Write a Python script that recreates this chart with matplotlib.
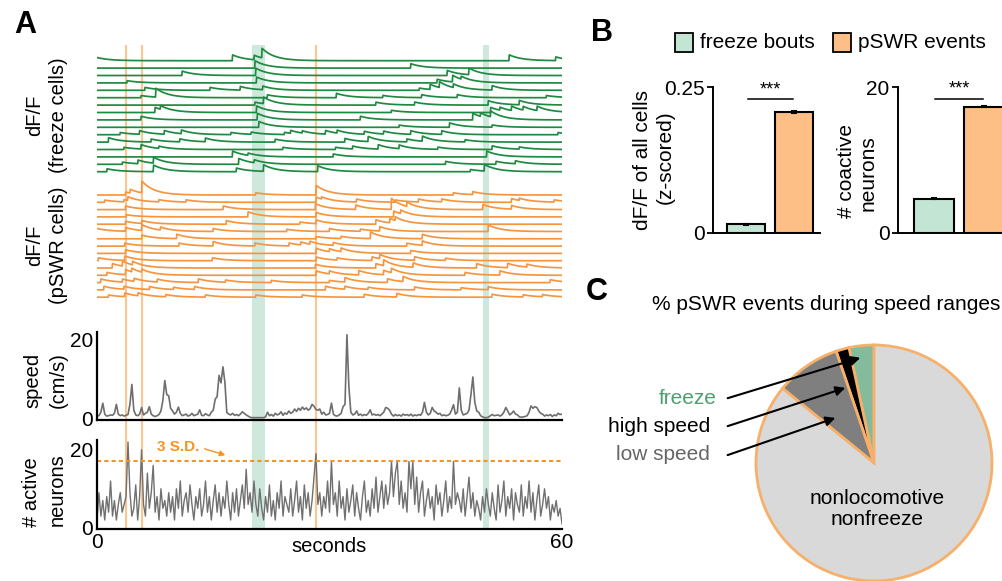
import numpy as np
import matplotlib
matplotlib.use('Agg')
import matplotlib.pyplot as plt
from matplotlib.patches import Rectangle

plt.rcParams['font.family'] = ['Liberation Sans', 'DejaVu Sans']

# ---------------- data ----------------
# calcium events per cell: (time in s, amplitude)
green_events = [
    [(-0.5, 0.6), (17.5, 0.8), (20.3, 0.6), (21.3, 1.3), (53.2, 0.8), (59.2, 0.5)],
    [(20.4, 1.0), (40.5, 0.6)],
    [(11.0, 0.6), (20.5, 1.0), (45.2, 0.7), (48.0, 0.9)],
    [(3.9, 0.3), (20.6, 0.8), (43.9, 0.5), (45.9, 0.9), (47.0, 0.4)],
    [(6.2, 0.4), (14.6, 0.4), (18.5, 0.5), (21.4, 0.5), (41.6, 0.3), (43.0, 0.7), (44.2, 0.8), (46.0, 0.5), (51.0, 0.6)],
    [(5.7, 0.3), (7.6, 1.2), (22.0, 0.4), (30.9, 0.6), (36.9, 0.3), (41.9, 0.4), (46.5, 0.4), (58.0, 0.3)],
    [(20.4, 0.4), (21.5, 0.9), (36.0, 0.4), (41.0, 0.4), (50.5, 0.6), (54.5, 0.6)],
    [(7.5, 0.7), (8.2, 0.5), (20.6, 0.9), (38.0, 0.3), (50.8, 0.7), (52.0, 0.4), (53.5, 0.6), (55.0, 0.5), (56.8, 0.6)],
    [(5.7, 0.5), (20.7, 0.9), (34.0, 0.5), (48.5, 0.9), (49.5, 0.5), (50.8, 0.8)],
    [(20.9, 0.8), (39.0, 0.3), (45.5, 0.6), (51.0, 0.3)],
    [(3.0, 0.3), (5.5, 0.5), (8.7, 0.5), (10.9, 0.5), (17.3, 0.3), (19.9, 0.3), (24.2, 0.3), (25.0, 0.4), (26.5, 0.3),
     (29.5, 0.5), (31.0, 0.4), (34.5, 0.4), (37.0, 0.4), (40.5, 0.5), (44.5, 0.5), (59.5, 0.3)],
    [(1.5, 0.6), (7.0, 0.4), (10.7, 0.4), (14.0, 0.5), (23.0, 0.4), (32.0, 0.5), (35.0, 0.7), (40.0, 0.4), (42.0, 0.7), (47.5, 0.3)],
    [(3.5, 0.3), (5.7, 0.6), (8.0, 0.3), (24.0, 0.3), (30.8, 0.3), (33.0, 0.4), (36.3, 0.6), (39.0, 0.5), (44.0, 0.3), (51.0, 0.5), (54.5, 0.3)],
    [(17.5, 0.8), (19.5, 0.3), (30.5, 0.4), (50.3, 0.8)],
    [(3.3, 0.3), (5.3, 0.5), (7.3, 0.8), (18.3, 0.8), (20.3, 0.4), (45.0, 0.4), (51.5, 0.4), (54.0, 0.4)],
    [(1.3, 0.4), (7.3, 0.9), (18.0, 0.5), (21.5, 0.9), (28.5, 0.8), (48.2, 0.3), (50.0, 0.9)],
]
orange_events = [
    [(3.7, 0.4), (4.3, 0.5), (5.8, 1.6), (20.5, 0.3), (28.3, 1.3), (46.0, 0.3), (48.5, 0.4)],
    [(1.0, 0.3), (3.5, 0.3), (4.0, 0.5), (8.0, 0.3), (11.5, 0.3), (28.3, 0.7), (29.0, 0.3), (33.5, 0.4), (38.5, 0.3),
     (41.5, 0.4), (44.5, 0.4), (53.5, 0.5), (54.5, 0.3), (59.0, 0.3)],
    [(3.7, 0.5), (16.3, 0.5), (28.2, 0.8), (33.4, 0.6), (38.0, 1.5), (40.0, 0.6), (49.8, 0.7), (53.5, 0.5)],
    [(3.8, 0.3), (19.5, 0.7), (28.3, 0.6), (38.3, 0.8), (39.2, 0.5)],
    [(3.7, 0.4), (5.8, 0.4), (16.7, 0.5), (26.2, 0.3), (28.3, 0.5), (36.0, 0.6), (37.8, 0.6), (38.5, 0.5)],
    [(-0.3, 0.5), (3.7, 0.5), (5.8, 0.8), (8.2, 0.4), (15.0, 0.4), (24.5, 0.3), (30.0, 0.4), (34.0, 0.3), (36.5, 0.6), (50.5, 0.9)],
    [(5.8, 0.5), (10.3, 0.6), (28.3, 0.3), (31.5, 0.3), (35.3, 0.9), (42.0, 0.6)],
    [(3.6, 0.4), (10.6, 0.4), (15.0, 0.6), (20.4, 0.4), (24.8, 0.4), (26.3, 0.4), (27.5, 0.4), (30.5, 0.4), (40.0, 0.4), (42.0, 0.6)],
    [(3.7, 0.5), (28.3, 0.7), (30.0, 0.4), (31.5, 0.5), (40.5, 0.4)],
    [(0.2, 0.4), (3.6, 0.6), (14.9, 0.4), (28.3, 0.5), (31.0, 0.3), (35.5, 0.5), (36.5, 0.6), (41.0, 0.5), (45.0, 0.3)],
    [(2.0, 0.6), (3.3, 0.7), (4.6, 0.5), (28.2, 0.5), (36.0, 0.6), (37.0, 0.8), (40.8, 0.6), (49.0, 0.6), (53.0, 0.6), (55.5, 0.4)],
    [(1.3, 0.4), (3.7, 0.7), (4.5, 0.5), (5.8, 0.4), (28.3, 0.6), (30.0, 0.4), (33.8, 0.6), (37.0, 0.6), (38.0, 0.6), (47.5, 0.4), (52.0, 0.6)],
    [(0.5, 0.5), (3.3, 0.4), (4.8, 0.4), (7.8, 0.4), (13.1, 0.5), (16.6, 0.3), (22.5, 0.3), (30.0, 0.3), (32.0, 0.6),
     (37.5, 0.5), (39.5, 0.7), (58.5, 0.4)],
    [(0.9, 0.5), (3.5, 0.4), (6.8, 0.4), (9.9, 0.3), (12.6, 0.4), (29.5, 0.5), (32.0, 0.4), (35.0, 0.3), (41.0, 0.4), (47.0, 0.3), (50.5, 0.4)],
    [(1.5, 0.3), (3.6, 0.5), (5.3, 0.4), (8.9, 0.3), (14.0, 0.3), (20.5, 0.3), (26.5, 0.3), (34.5, 0.4), (38.7, 0.5),
     (51.0, 0.4), (55.0, 0.3), (57.5, 0.3)],
]
freeze_bouts = [(20.0, 21.7), (49.75, 50.6)]
pswr_times = [3.7, 5.8, 28.3]

# speed (cm/s), one value every 0.25 s
speed = [
    0.5, 0.6, 1.5, 3.8, 1.0, 0.5, 0.6, 0.8, 0.7, 1.2, 3.5, 1.0, 0.6, 0.8, 0.5, 0.7, 0.9, 3.5, 8.6, 2.0,
    0.8, 0.6, 1.0, 2.7, 0.8, 1.2, 1.5, 2.9, 1.0, 0.6, 0.4, 0.6, 0.9, 1.8, 4.5, 9.6, 6.0, 5.7, 2.5, 1.8,
    1.0, 1.5, 2.8, 1.2, 0.6, 0.8, 1.0, 0.5, 0.7, 1.2, 0.6, 0.8, 1.0, 2.1, 0.7, 0.6, 1.1, 0.8, 0.6, 1.5,
    2.0, 4.8, 5.5, 10.9, 9.0, 13.1, 9.2, 1.4, 1.0, 0.8, 1.2, 0.7, 0.9, 0.6, 1.0, 1.6, 1.2, 0.8, 0.5, 0.2,
    0.1, 0.1, 0.1, 0.1, 0.1, 0.1, 0.1, 0.3, 1.5, 0.6, 0.9, 0.5, 1.2, 0.8, 1.0, 1.6, 0.7, 1.3, 1.0, 1.8,
    1.2, 1.5, 2.3, 1.7, 2.5, 2.0, 2.8, 2.2, 2.6, 2.0, 2.4, 3.5, 3.0, 2.2, 2.0, 2.3, 1.0, 1.5, 0.8, 0.9,
    1.2, 3.8, 1.0, 0.6, 0.5, 0.8, 1.2, 2.9, 3.5, 21.3, 8.0, 1.5, 0.8, 1.0, 1.8, 0.7, 1.0, 0.6, 0.9, 0.7,
    1.2, 2.1, 0.8, 1.0, 0.7, 0.9, 0.6, 1.0, 1.5, 2.7, 2.5, 2.0, 1.0, 0.5, 0.9, 0.6, 0.8, 0.5, 1.0, 0.7,
    0.9, 0.6, 1.0, 0.5, 0.8, 0.6, 0.9, 0.7, 1.5, 4.0, 1.5, 0.8, 1.2, 2.7, 1.8, 1.5, 1.0, 1.2, 0.6, 0.8,
    0.6, 0.7, 1.0, 2.0, 3.4, 1.0, 1.5, 7.7, 2.0, 0.8, 1.0, 1.2, 2.0, 6.0, 10.5, 4.0, 1.8, 1.5, 0.6, 0.3,
    0.1, 0.1, 0.2, 0.6, 0.9, 0.6, 0.7, 0.8, 0.5, 0.8, 1.5, 2.7, 1.8, 0.8, 1.2, 1.8, 1.0, 0.8, 0.3, 0.2,
    0.3, 0.4, 0.6, 1.5, 3.1, 2.5, 2.9, 2.7, 1.8, 1.2, 1.0, 0.5, 0.8, 0.6, 0.9, 0.4, 0.8, 0.6, 1.2, 0.9, 1.0,
]

# number of active neurons, one value every 0.25 s
active = [
    2, 9, 3, 7, 2, 8, 4, 12, 3, 7, 2, 6, 9, 4, 6, 8, 22, 9, 3, 5,
    11, 2, 8, 20, 6, 3, 14, 5, 9, 16, 4, 8, 2, 10, 5, 7, 3, 9, 4, 8,
    2, 10, 5, 12, 3, 7, 9, 4, 11, 6, 2, 8, 5, 10, 3, 6, 12, 4, 8, 2,
    7, 11, 4, 9, 3, 8, 5, 12, 6, 2, 9, 4, 10, 3, 7, 11, 5, 15, 6, 9,
    4, 12, 6, 3, 10, 5, 2, 8, 4, 11, 3, 7, 2, 9, 5, 12, 3, 8, 6, 4,
    10, 3, 7, 12, 4, 8, 2, 11, 5, 9, 3, 7, 13, 19, 6, 9, 3, 8, 5, 12,
    4, 17, 6, 9, 3, 12, 5, 8, 2, 10, 4, 7, 11, 3, 9, 5, 2, 8, 12, 4,
    7, 3, 10, 5, 13, 4, 8, 12, 5, 11, 6, 9, 17, 8, 14, 17, 6, 12, 5, 9,
    4, 17, 10, 17, 6, 13, 4, 9, 12, 3, 7, 10, 5, 8, 2, 11, 6, 9, 3, 7,
    12, 4, 8, 5, 17, 6, 9, 7, 4, 10, 3, 8, 13, 5, 9, 3, 7, 5, 2, 8,
    4, 10, 6, 3, 9, 5, 2, 11, 4, 7, 12, 3, 8, 5, 10, 2, 9, 6, 4, 11,
    3, 8, 5, 12, 4, 9, 2, 7, 11, 3, 6, 10, 5, 8, 2, 6, 4, 7, 3, 5, 1,
]
threshold_3sd = 17.2

# panel B
groups = ['freeze bouts', 'pSWR events']
dff_mean = [0.015, 0.207]
dff_err = [0.001, 0.002]
coactive_mean = [4.7, 17.3]
coactive_err = [0.05, 0.1]

# panel C
pie_labels = ['freeze', 'high speed', 'low speed', 'nonlocomotive\nnonfreeze']
pie_pct = [3.4, 1.8, 8.9, 85.9]

# ---------------- style ----------------
c_green = '#1e8a41'
c_orange = '#f7953f'
c_band = '#cfe8dc'
c_line = '#fcc690'
c_bar_freeze = '#c3e6d4'
c_bar_pswr = '#fdbf86'
tau = 1.6

W, H = 1002, 581
fig = plt.figure(figsize=(W / 100, H / 100), dpi=100)


def px_axes(l, t, r, b):
    return fig.add_axes([l / W, 1 - b / H, (r - l) / W, (b - t) / H])


# background: freeze bouts and pSWR times across panel A
bg = px_axes(97, 45, 562, 529)
bg.set_xlim(0, 60)
bg.set_ylim(0, 1)
bg.axis('off')
for a, b in freeze_bouts:
    bg.axvspan(a, b, color=c_band, lw=0)
for x in pswr_times:
    bg.axvline(x, color=c_line, lw=1.5)

# calcium traces
tr = px_axes(97, 45, 562, 305)
tr.set_xlim(0, 60)
tr.set_ylim(305, 45)
tr.axis('off')
t = np.arange(0, 60.001, 0.05)


def ca_trace(events):
    y = np.zeros_like(t)
    for t0, a in events:
        m = t >= t0
        y[m] += a * np.exp(-(t[m] - t0) / tau)
    return y


for i, ev in enumerate(green_events):
    tr.plot(t, 60.7 + i * 7.4 - 7.3 * ca_trace(ev), color=c_green, lw=1.25)
for i, ev in enumerate(orange_events):
    tr.plot(t, 195 + i * 7.3 - 7.3 * ca_trace(ev), color=c_orange, lw=1.25)

# speed
sp = px_axes(97, 332, 562, 420)
sp.patch.set_alpha(0)
sp.plot(np.linspace(0, 60, len(speed)), speed, color='#6e6e6e', lw=1.2)
sp.set_xlim(0, 60)
sp.set_ylim(-0.5, 22)
sp.set_xticks([])
sp.set_yticks([0, 20])
sp.tick_params(length=0, pad=3, labelsize=15)
for s in ['top', 'right']:
    sp.spines[s].set_visible(False)
for s in ['left', 'bottom']:
    sp.spines[s].set_linewidth(1.6)

# active neurons
ac = px_axes(97, 440, 562, 529)
ac.patch.set_alpha(0)
ac.plot(np.linspace(0, 60, len(active)), active, color='#707070', lw=1.0)
ac.axhline(threshold_3sd, color='#f7941d', ls=(0, (2, 1.5)), lw=1.5)
ac.set_xlim(0, 60)
ac.set_ylim(-0.3, 22.5)
ac.set_xticks([0, 60])
ac.set_yticks([0, 20])
ac.tick_params(length=0, pad=3, labelsize=15)
for s in ['top', 'right']:
    ac.spines[s].set_visible(False)
for s in ['left', 'bottom']:
    ac.spines[s].set_linewidth(1.6)


# panel B bars
def bar_panel(ax, means, errs, ymax, ticklabels, xlim, sig_y, star_y):
    ax.bar([0, 1], means, width=0.8, color=[c_bar_freeze, c_bar_pswr], edgecolor='black', lw=1.5,
           yerr=errs, capsize=2, error_kw=dict(lw=1.5, capthick=1.5))
    ax.set_xlim(*xlim)
    ax.set_ylim(0, ymax)
    ax.set_xticks([])
    ax.set_yticks([0, ymax])
    ax.set_yticklabels(ticklabels)
    ax.tick_params(length=4, width=1.3, pad=2, labelsize=15)
    for s in ['top', 'right']:
        ax.spines[s].set_visible(False)
    for s in ['left', 'bottom']:
        ax.spines[s].set_linewidth(1.4)
    ax.plot([0.03, 0.97], [sig_y, sig_y], color='black', lw=1.1, clip_on=False)
    ax.text(0.5, star_y, '***', ha='center', va='bottom', fontsize=13, clip_on=False)


b1 = px_axes(713, 87, 820, 233)
bar_panel(b1, dff_mean, dff_err, 0.25, ['0', '0.25'], (-0.69, 1.54), 0.229, 0.231)
b2 = px_axes(898, 87, 1002, 233)
bar_panel(b2, coactive_mean, coactive_err, 20, ['0', '20'], (-0.71, 1.35), 18.4, 18.6)

# panel C pie
pc = px_axes(756, 345, 992, 581)
wedges, _ = pc.pie(pie_pct, colors=['#84bb9c', '#000000', '#7f7f7f', '#d9d9d9'], startangle=90,
                   counterclock=True, wedgeprops=dict(edgecolor='#f6b06a', linewidth=2))
for w in wedges:
    w.set_clip_on(False)
pc.set_xlim(-1, 1)
pc.set_ylim(-1, 1)
pc.set_aspect('equal')

# overlay in pixel coordinates for labels
ov = fig.add_axes([0, 0, 1, 1])
ov.set_xlim(0, W)
ov.set_ylim(H, 0)
ov.axis('off')

for letter, x, y in [('A', 25, 25), ('B', 602, 33), ('C', 597, 292)]:
    ov.text(x, y, letter, fontsize=22, fontweight='bold', ha='center', va='center')

# rotated axis labels, one text per line
lab = dict(rotation=90, ha='center', va='center', fontsize=14.5)
rot_labels = [
    ('dF/F', 35, 115), ('(freeze cells)', 59, 115),
    ('dF/F', 35, 245), ('(pSWR cells)', 59, 245),
    ('speed', 33, 380), ('(cm/s)', 58, 380),
    ('# active', 32, 492), ('neurons', 57, 490),
]
for s, x, y in rot_labels:
    ov.text(x, y, s, **lab)
ov.text(329, 546, 'seconds', ha='center', va='center', fontsize=14.5)

ov.text(178, 447, '3 S.D.', color='#f7941d', fontweight='bold', fontsize=11, ha='center', va='center')
ov.annotate('', xy=(228, 456), xytext=(202, 448),
            arrowprops=dict(arrowstyle='-|>', color='#f7941d', lw=1, mutation_scale=8))

# legend for B
ov.add_patch(Rectangle((675, 33), 18, 19, facecolor=c_bar_freeze, edgecolor='black', lw=1.3))
ov.text(700, 42, groups[0], fontsize=15, ha='left', va='center')
ov.add_patch(Rectangle((833, 33), 18, 19, facecolor=c_bar_pswr, edgecolor='black', lw=1.3))
ov.text(858, 42, groups[1], fontsize=15, ha='left', va='center')

lab_b = dict(lab, fontsize=15)
for s, x, y in [('dF/F of all cells', 643, 160), ('(z-scored)', 665, 157),
                ('# coactive', 847, 171), ('neurons', 868, 173)]:
    ov.text(x, y, s, **lab_b)

# panel C labels
ov.text(652, 305, '% pSWR events during speed ranges', fontsize=15, ha='left', va='center')
ov.text(877, 509, pie_labels[3], fontsize=15, ha='center', va='center', linespacing=1.15)
pie_text = [(pie_labels[0], 717, 398, '#4e9f70', (863, 357)),
            (pie_labels[1], 710, 426, 'black', (848, 387)),
            (pie_labels[2], 710, 455, '#666666', (838, 417))]
for txt, x, y, col, head in pie_text:
    ov.text(x, y, txt, fontsize=15, color=col, ha='right', va='center')
    ov.annotate('', xy=head, xytext=(725, y + 1),
                arrowprops=dict(arrowstyle='-|>', color='black', lw=1.5, mutation_scale=14))

fig.savefig('out.png', dpi=100, facecolor='white')
